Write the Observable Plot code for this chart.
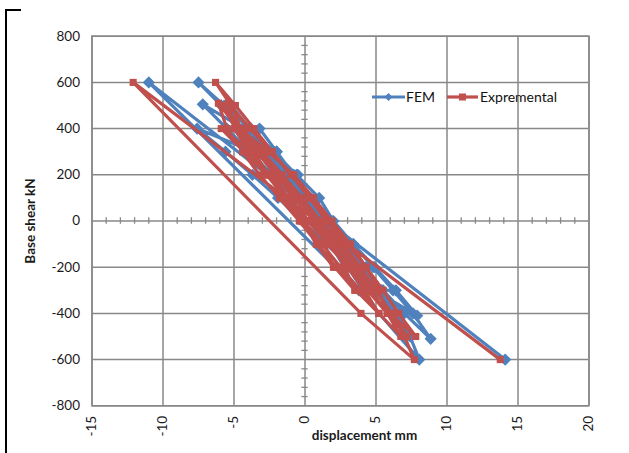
<!DOCTYPE html>
<html><head><meta charset="utf-8">
<script src="https://cdn.jsdelivr.net/npm/d3@7"></script>
<script src="https://cdn.jsdelivr.net/npm/@observablehq/plot@0.6"></script>
<style>
body{margin:0;background:#fff;}
#wrap{position:relative;width:629px;height:453px;overflow:hidden;font-family:Lato,"Open Sans",sans-serif;}
#frame{position:absolute;left:5px;top:9px;width:14px;height:460px;border-left:2px solid #000;border-top:2px solid #000;}
#chart{position:absolute;left:0;top:0;}
#legend{position:absolute;left:368px;top:86px;}
</style></head><body>
<div id="wrap"><div id="frame"></div><div id="chart"></div>
<svg id="legend" width="210" height="22">
  <line x1="4" y1="11" x2="37" y2="11" stroke="#4F81BD" stroke-width="3.2"/>
  <path d="M20.5,7 L24.5,11 L20.5,15 L16.5,11 Z" fill="#4F81BD"/>
  <text x="38" y="16" font-family="Lato" font-size="14" fill="#111">FEM</text>
  <line x1="79" y1="11" x2="110" y2="11" stroke="#C0504D" stroke-width="3.2"/>
  <rect x="91" y="7.5" width="7" height="7" fill="#C0504D"/>
  <text x="112" y="16" font-family="Lato" font-size="14" fill="#111">Expremental</text>
</svg>
</div>
<script>
// Axis ticks
const xTicks = [-15, -10, -5, 0, 5, 10, 15, 20];
const yTicks = [-800, -600, -400, -200, 0, 200, 400, 600, 800];
const xMinor = [-14,-13,-12,-11,-9,-8,-7,-6,-4,-3,-2,-1,1,2,3,4,6,7,8,9,11,12,13,14,16,17,18,19];
const yMinor = [-760,-720,-680,-640,-560,-520,-480,-440,-360,-320,-280,-240,-160,-120,-80,-40,40,80,120,160,240,280,320,360,440,480,520,560,640,680,720,760];

// FEM series (displacement mm, base shear kN)
const femX = [0,-0.1,-0.5,0.2,0.8,1.8,2.77,2.0,1.1,
  0.1,-0.9,-2.0,-1.1,-0.1,1.0,2.0,3.0,4.1,3.2,2.2,1.2,
  0.1,-1.1,-2.4,-3.8,-2.6,-1.4,-0.2,1.0,2.3,3.6,4.9,6.2,5.1,3.9,2.7,1.5,
  0.3,-0.8,-2.0,-3.2,-2.0,-0.8,0.4,1.5,2.7,3.9,5.1,6.4,5.4,4.3,3.1,1.8,
  0.1,-1.6,-3.6,-7.6,-5.6,-3.7,-1.9,-0.2,1.5,3.2,4.9,7.9,6.4,4.9,3.4,1.9,
  0.3,-1.2,-2.7,-4.3,-7.2,-5.5,-3.9,-2.3,-0.8,0.7,2.1,3.5,4.9,6.2,7.45,6.4,5.2,4.0,2.8,1.6,
  0.0,-1.3,-2.6,-3.9,-5.2,-3.9,-2.6,-1.3,0.0,1.3,2.7,4.1,5.5,7.0,8.85,7.6,6.2,4.8,3.4,2.0,
  1.0,-0.6,-2.2,-3.9,-5.7,-7.5,-5.9,-4.4,-2.9,-1.4,0.1,1.5,2.8,4.1,5.4,6.6,7.4,8.05,
  3.8,-11,14.1];
const femY = [0,100,200,100,0,-100,-200,-100,0,
  100,200,300,200,100,0,-100,-200,-300,-200,-100,0,
  100,200,300,400,300,200,100,0,-100,-200,-300,-400,-300,-200,-100,0,
  100,200,300,400,300,200,100,0,-100,-200,-300,-400,-300,-200,-100,0,
  100,200,300,400,300,200,100,0,-100,-200,-300,-410,-300,-200,-100,0,
  100,200,300,400,505,400,300,200,100,0,-100,-200,-300,-400,-500,-400,-300,-200,-100,0,
  100,200,300,400,500,400,300,200,100,0,-100,-200,-300,-400,-510,-400,-300,-200,-100,0,
  100,200,300,400,500,600,500,400,300,200,100,0,-100,-200,-300,-400,-500,-600,
  -300,600,-600];

// Experimental series
const expX = [0,-0.9,-1.9,-0.6,0.6,1.4,2.0,0.8,-0.2,-1.2,
  -2.2,-3.2,-1.8,-0.4,0.9,1.9,2.8,3.5,2.1,0.9,-0.3,-1.5,-2.6,
  -3.6,-4.6,-2.6,-0.8,0.6,1.9,3.2,4.3,5.2,5.8,4.4,3.0,1.6,0.2,-1.2,-2.6,-3.8,
  -5.9,-4.3,-2.7,-1.2,0.3,1.7,3.0,4.2,5.2,3.6,2.2,0.9,-0.4,-1.8,-3.2,-4.4,
  -5.5,-6.1,-4.7,-3.4,-2.1,-0.6,0.8,2.2,3.5,4.7,5.8,6.75,5.2,3.9,2.5,1.2,-0.1,-1.4,-2.7,-3.9,-5.0,
  -5.4,-3.9,-2.4,-1.0,0.4,1.7,3.0,4.3,5.5,6.6,7.8,6.0,4.4,3.0,1.6,0.2,-1.2,-2.5,-3.8,-4.9,
  -5.8,-4.4,-3.0,-1.6,-0.2,1.1,2.5,3.8,5.0,6.1,7.2,5.8,4.5,3.2,1.9,0.6,-0.7,-2.0,-3.3,-4.5,-5.2,
  -6.3,-4.9,-3.6,-2.3,-1.0,0.3,1.5,2.7,3.9,5.0,6.1,7.0,7.7,
  3.94,-12.1,13.75];
const expY = [0,100,200,100,0,-100,-200,-100,0,100,
  200,300,200,100,0,-100,-200,-300,-200,-100,0,100,200,
  300,400,300,200,100,0,-100,-200,-300,-400,-300,-200,-100,0,100,200,300,
  400,300,200,100,0,-100,-200,-300,-400,-300,-200,-100,0,100,200,300,
  400,510,400,300,200,100,0,-100,-200,-300,-400,-500,-400,-300,-200,-100,0,100,200,300,400,
  510,400,300,200,100,0,-100,-200,-300,-400,-500,-400,-300,-200,-100,0,100,200,300,400,
  500,400,300,200,100,0,-100,-200,-300,-400,-500,-400,-300,-200,-100,0,100,200,300,400,500,
  600,500,400,300,200,100,0,-100,-200,-300,-400,-500,-600,
  -400,600,-600];

const fem = femX.map((x, i) => ({x, y: femY[i]}));
const exp = expX.map((x, i) => ({x, y: expY[i]}));

const blue = "#4F81BD", red = "#C0504D", grid = "#888888";
const fmt = d => String(d);

const chart = Plot.plot({
  width: 629, height: 453,
  marginLeft: 91.5, marginRight: 40.5, marginTop: 35.7, marginBottom: 47.7,
  style: {fontFamily: "Lato, 'Open Sans', sans-serif", fontSize: "13.5px", color: "#1a1a1a", background: "transparent"},
  x: {domain: [-15, 20]},
  y: {domain: [-800, 800]},
  marks: [
    Plot.gridX(xTicks, {stroke: grid, strokeOpacity: 1, strokeWidth: 1.5}),
    Plot.gridY(yTicks, {stroke: grid, strokeOpacity: 1, strokeWidth: 1.5}),
    Plot.frame({stroke: grid, strokeWidth: 1.5}),
    Plot.ruleX(xMinor, {x: d => d, y1: -14, y2: 14, stroke: grid, strokeWidth: 1.3}),
    Plot.ruleY(yMinor, {y: d => d, x1: -0.22, x2: 0.22, stroke: grid, strokeWidth: 1.3}),
    Plot.axisX(xTicks, {tickSize: 0, tickRotate: -90, tickPadding: 10, label: null, tickFormat: fmt}),
    Plot.axisY(yTicks, {tickSize: 0, tickPadding: 12, label: null, tickFormat: fmt}),
    Plot.text(["displacement mm"], {frameAnchor: "bottom", dx: 24, dy: 34, text: d => d, fontWeight: "bold", fontSize: 13.5, fill: "#1a1a1a"}),
    Plot.text(["Base shear kN"], {frameAnchor: "left", dx: -61, rotate: -90, textAnchor: "middle", text: d => d, fontWeight: "bold", fontSize: 13.5, fill: "#1a1a1a"}),
    Plot.line(fem, {x: "x", y: "y", stroke: blue, strokeWidth: 3.2}),
    Plot.dot(fem, {x: "x", y: "y", symbol: "diamond2", fill: blue, stroke: "none", r: 5.5}),
    Plot.line(exp, {x: "x", y: "y", stroke: red, strokeWidth: 3.2}),
    Plot.dot(exp, {x: "x", y: "y", symbol: "square", fill: red, stroke: "none", r: 4})
  ]
});
document.getElementById("chart").appendChild(chart);
</script>
</body></html>
